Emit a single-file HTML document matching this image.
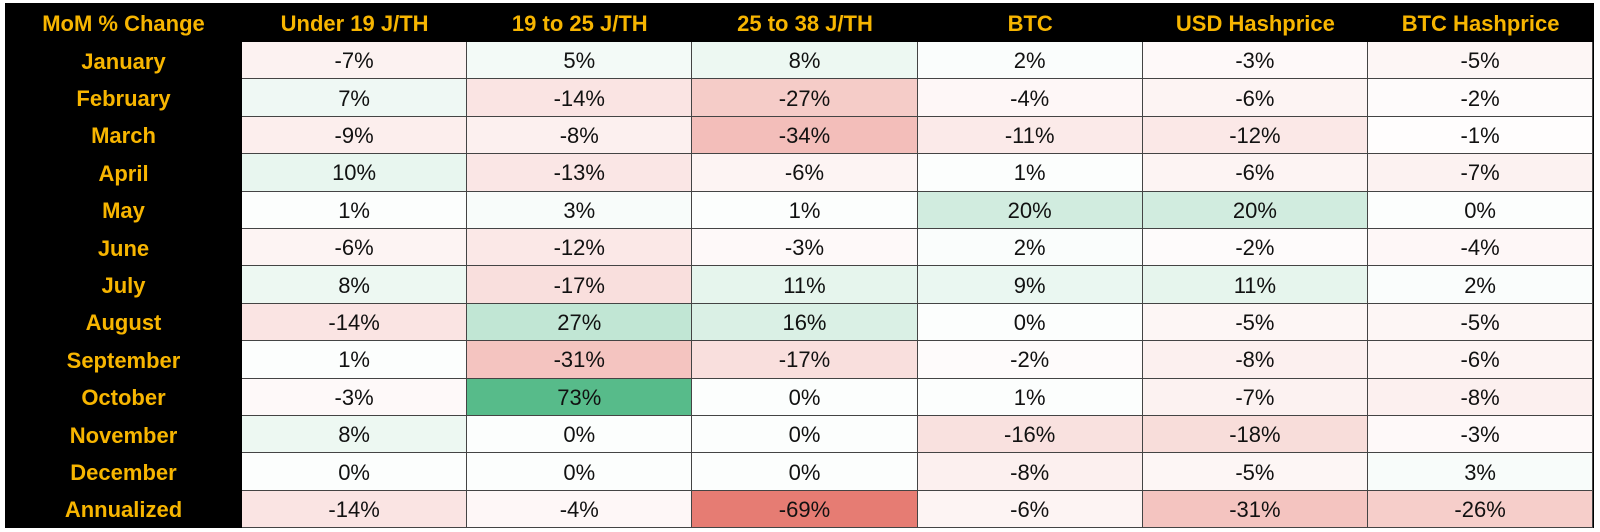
<!DOCTYPE html>
<html><head><meta charset="utf-8"><style>
html,body{margin:0;padding:0;background:#fff;width:1600px;height:532px;overflow:hidden}
#t{position:absolute;left:5px;top:3px;width:1589px;height:525px;background:#000}
.c{position:absolute;box-sizing:border-box;display:flex;align-items:center;justify-content:center;font-family:"Liberation Sans",Arial,sans-serif}
.h{color:#f7b500;font-weight:bold;font-size:22px;padding-top:2px}
.d{color:#111;font-size:22px;border-right:1.5px solid #444;border-bottom:1.5px solid #444;padding-top:2px}
</style></head><body><div id="t"></div>
<script>
var cols=["Under 19 J/TH","19 to 25 J/TH","25 to 38 J/TH","BTC","USD Hashprice","BTC Hashprice"];
var rows=[["January",-7,5,8,2,-3,-5],["February",7,-14,-27,-4,-6,-2],["March",-9,-8,-34,-11,-12,-1],["April",10,-13,-6,1,-6,-7],["May",1,3,1,20,20,0],["June",-6,-12,-3,2,-2,-4],["July",8,-17,11,9,11,2],["August",-14,27,16,0,-5,-5],["September",1,-31,-17,-2,-8,-6],["October",-3,73,0,1,-7,-8],["November",8,0,0,-16,-18,-3],["December",0,0,0,-8,-5,3],["Annualized",-14,-4,-69,-6,-31,-26]];
var t=document.getElementById('t'),X0=237,CW=225.2,Y0=39,RH=37.4,h='';
function col(v){var c,f;if(v>=0){c=[87,187,138];f=v/73;}else{c=[230,124,115];f=-v/69;}
f=Math.min(1,f);if(v>=0)f=Math.max(f,0.02);return 'rgb('+[0,1,2].map(function(i){return Math.round(255-(255-c[i])*f)}).join(',')+')';}
h+='<div class="c h" style="left:0;top:0;width:'+X0+'px;height:'+Y0+'px">MoM % Change</div>';
cols.forEach(function(n,i){h+='<div class="c h" style="left:'+(X0+i*CW)+'px;top:0;width:'+CW+'px;height:'+Y0+'px">'+n+'</div>';});
rows.forEach(function(r,j){var y=Y0+j*RH;
h+='<div class="c h" style="left:0;top:'+y+'px;width:'+X0+'px;height:'+RH+'px">'+r[0]+'</div>';
for(var i=1;i<7;i++){h+='<div class="c d" style="left:'+(X0+(i-1)*CW)+'px;top:'+y+'px;width:'+CW+'px;height:'+RH+'px;background:'+col(r[i])+'">'+r[i]+'%</div>';}});
t.innerHTML=h;
</script></body></html>
